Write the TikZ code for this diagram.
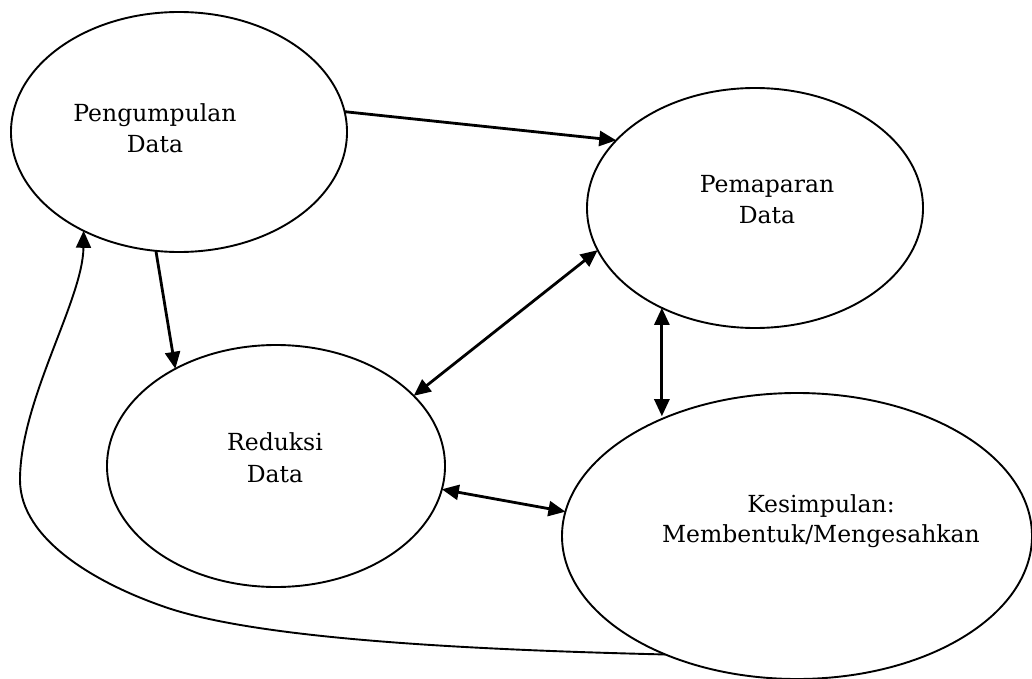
\documentclass[tikz,border=0pt]{standalone}
\usepackage{fontspec}
\setmainfont{DejaVu Serif}
\usetikzlibrary{shapes.geometric,arrows.meta}
\begin{document}
\begin{tikzpicture}[x=1pt,y=-1pt,
  oval/.style={draw,ellipse,line width=1.9pt,inner sep=0pt,outer sep=0pt},
  lbl/.style={anchor=base,inner sep=0pt,font=\fontsize{23.5}{31}\selectfont},
  tip/.tip={Triangle[length=17pt,width=15pt]},
  arr/.style={line width=2.8pt,-tip},
  darr/.style={line width=2.8pt,tip-tip},
  loop/.style={line width=1.9pt,-tip}]
\useasboundingbox (0,0) rectangle (1032,679);
\node[oval,minimum width=336pt,minimum height=240pt] (E1) at (179,132) {};
\node[oval,minimum width=336pt,minimum height=240pt] (E2) at (755,208) {};
\node[oval,minimum width=338pt,minimum height=242pt] (E3) at (276,466) {};
\node[oval,minimum width=470pt,minimum height=286pt] (E4) at (797,536) {};
\node[lbl] (t1a) at (155,122) {Pengumpulan};
\node[lbl] (t1b) at (155,153) {Data};
\node[lbl] (t2a) at (767,193) {Pemaparan};
\node[lbl] (t2b) at (767,223) {Data};
\node[lbl] (t3a) at (275,450) {Reduksi};
\node[lbl] (t3b) at (275,482) {Data};
\node[lbl] (t4a) at (821,512) {Kesimpulan:};
\node[lbl] (t4b) at (821,542) {Membentuk/Mengesahkan};
% connectors
\draw[arr] (E1.7) -- (E2.154);
\draw[arr] (E1.259) -- (E3.136);
\draw[darr] (E3.27) -- (E2.195);
\draw[darr] (E2.227) -- (E2.227 |- E4.137);
\draw[darr] (E3.352) -- (E4.174);
\draw[loop] (E4.222) .. controls (480,650) and (260,640) .. (165,607)
  .. controls (98,584) and (20,540) .. (20,480)
  .. controls (20,400) and (83,300) .. (E1.226);
\end{tikzpicture}
\end{document}
